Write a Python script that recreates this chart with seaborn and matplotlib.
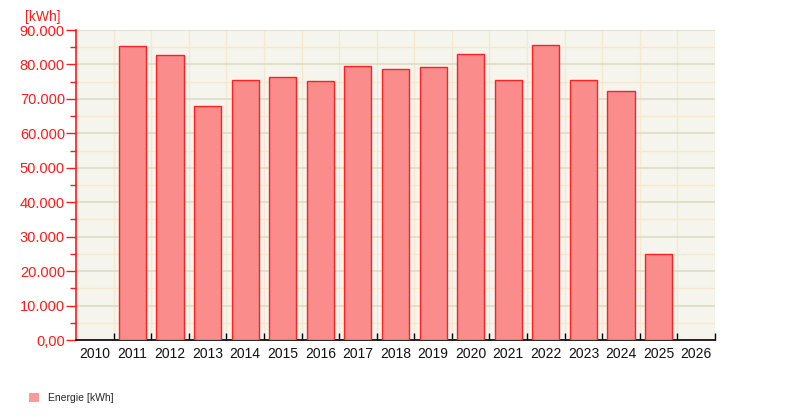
import numpy as np
import pandas as pd
import seaborn as sns
import matplotlib.pyplot as plt
from matplotlib.ticker import MultipleLocator, FuncFormatter, FixedLocator, FixedFormatter, NullFormatter
from matplotlib.patches import Patch

# yearly energy, kWh (no data for 2010 and 2026)
years = [str(y) for y in range(2010, 2027)]
energy = [np.nan, 85350, 82750, 67850, 75400, 76270, 75100, 79460, 78600,
          79180, 82950, 75400, 85560, 75400, 72200, 24970, np.nan]

df = pd.DataFrame({"year": years, "energy": energy})

sns.set_style("white")
plt.rcParams["font.family"] = ["Liberation Sans", "DejaVu Sans"]

fig = plt.figure(figsize=(7.9, 4.2), dpi=100)
ax = fig.add_axes([76 / 790, 1 - 340 / 420, 639 / 790, 310 / 420])
ax.set_facecolor("#f5f5ee")

sns.barplot(data=df, x="year", y="energy", order=years, ax=ax,
            color="#fa8c8c", saturation=1, edgecolor="#ff2020",
            linewidth=1.0, width=0.72, zorder=3)

ax.set_xlim(-0.5, len(years) - 0.5)
ax.set_ylim(0, 90000)

# x: major ticks between the years (with grid), labels on minor ticks
n = len(years)
ax.xaxis.set_major_locator(FixedLocator(np.arange(0.5, n, 1.0)))
ax.xaxis.set_major_formatter(NullFormatter())
ax.xaxis.set_minor_locator(FixedLocator(np.arange(n)))
ax.xaxis.set_minor_formatter(FixedFormatter(years))

# y: major every 10.000, minor every 5.000
ax.yaxis.set_major_locator(MultipleLocator(10000))
ax.yaxis.set_minor_locator(MultipleLocator(5000))
ax.grid(which="major", axis="y", color="#dcdcc6", linewidth=1.2, zorder=0)
ax.grid(which="minor", axis="y", color="#f5e8cc", linewidth=1.0, zorder=0)
ax.grid(which="major", axis="x", color="#f5e8cc", linewidth=1.0, zorder=0)
ax.set_axisbelow(True)

def de_fmt(v, pos):
    if v == 0:
        return "0,00"
    return f"{v:,.0f}".replace(",", ".")

ax.yaxis.set_major_formatter(FuncFormatter(de_fmt))
ax.tick_params(axis="y", which="major", colors="#ff1a1a", labelsize=10.5,
               length=7, width=1, direction="out", pad=1, left=True)
ax.tick_params(axis="y", which="minor", colors="#ff1a1a", length=4, width=1,
               left=True)
ax.tick_params(axis="x", which="minor", length=0, labelsize=10,
               labelcolor="#111111", pad=5, bottom=True)
ax.tick_params(axis="x", which="major", length=5, width=1,
               direction="in", color="black", bottom=True)

for s in ["top", "right"]:
    ax.spines[s].set_visible(False)
ax.spines["left"].set_color("#ff1a1a")
ax.spines["left"].set_linewidth(1.2)
ax.spines["bottom"].set_color("black")
ax.spines["bottom"].set_linewidth(1.2)

ax.set_xlabel("")
ax.set_ylabel("")
fig.text(25 / 790, 1 - 17 / 420, "[kWh]", color="#ff1a1a", fontsize=10,
         va="center", ha="left")

handle = Patch(facecolor="#fa9a9a", edgecolor="none")
fig.legend([handle], ["Energie [kWh]"], loc="center left",
           bbox_to_anchor=(25 / 790, 1 - 398 / 420), frameon=False,
           fontsize=7.5, handlelength=0.9, handleheight=0.9,
           handletextpad=0.9, borderaxespad=0)

fig.savefig("out.png", dpi=100)
